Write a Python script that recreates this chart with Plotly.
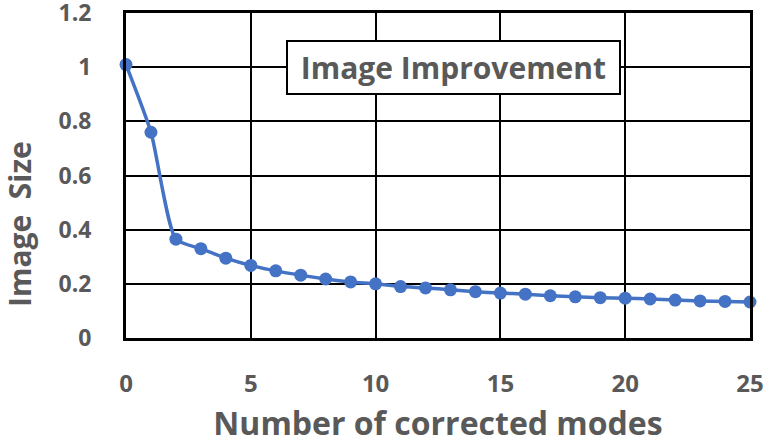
import plotly.graph_objects as go

modes = list(range(26))
image_size = [1.01, 0.76, 0.365, 0.33, 0.295, 0.268, 0.248, 0.232, 0.218, 0.207,
              0.2, 0.19, 0.185, 0.178, 0.171, 0.166, 0.162, 0.156, 0.152, 0.149,
              0.147, 0.144, 0.14, 0.137, 0.135, 0.133]
x_ticks = [0, 5, 10, 15, 20, 25]
y_ticks = [0, 0.2, 0.4, 0.6, 0.8, 1, 1.2]
y_tick_text = ["0", "0.2", "0.4", "0.6", "0.8", "1", "1.2"]

gray = "#595959"
blue = "#4472C4"
font = "Open Sans"

fig = go.Figure()
fig.add_trace(go.Scatter(
    x=modes, y=image_size, mode="lines+markers",
    line=dict(color=blue, width=3.5, shape="spline", smoothing=0.6),
    marker=dict(color=blue, size=13),
    showlegend=False, cliponaxis=False,
))

fig.add_annotation(
    text="&nbsp;Image Improvement&nbsp;", xref="paper", yref="paper",
    x=(453 - 126) / 624, y=(338 - 68) / 325, xanchor="center", yanchor="middle",
    showarrow=False,
    font=dict(family=font, size=30, color=gray, weight="bold"),
    bgcolor="white", bordercolor="black", borderwidth=2, borderpad=5,
)

fig.add_annotation(
    text="Image&nbsp;&nbsp;Size", xref="paper", yref="paper",
    x=(19 - 126) / 624, y=(338 - 224) / 325, xanchor="center", yanchor="middle",
    textangle=-90, showarrow=False,
    font=dict(family=font, size=30, color=gray, weight="bold"),
)

fig.update_layout(
    width=768, height=444,
    margin=dict(l=126, r=18, t=13, b=106),
    plot_bgcolor="white", paper_bgcolor="white",
    font=dict(family=font, color=gray),
    xaxis=dict(
        range=[0, 25], tickvals=x_ticks, showgrid=True, gridcolor="black", gridwidth=2,
        showline=True, linecolor="black", linewidth=3, mirror=True, zeroline=False,
        tickfont=dict(family=font, size=24, color=gray, weight="bold"), ticklabelstandoff=22,
        automargin=False,
        title=dict(text="Number of corrected modes",
                   font=dict(family=font, size=32, color=gray, weight="bold"), standoff=25),
    ),
    yaxis=dict(
        range=[0, 1.2005], tickvals=y_ticks, ticktext=y_tick_text, showgrid=True,
        gridcolor="black", gridwidth=2,
        showline=True, linecolor="black", linewidth=3, mirror=True, zeroline=False,
        tickfont=dict(family=font, size=23, color=gray, weight="bold"), ticklabelstandoff=27,
        ticklabeloverflow="allow",
        automargin=False,
    ),
)

fig.write_html("out.html", config={"displayModeBar": False},
               post_script="document.body.style.margin='0';")
